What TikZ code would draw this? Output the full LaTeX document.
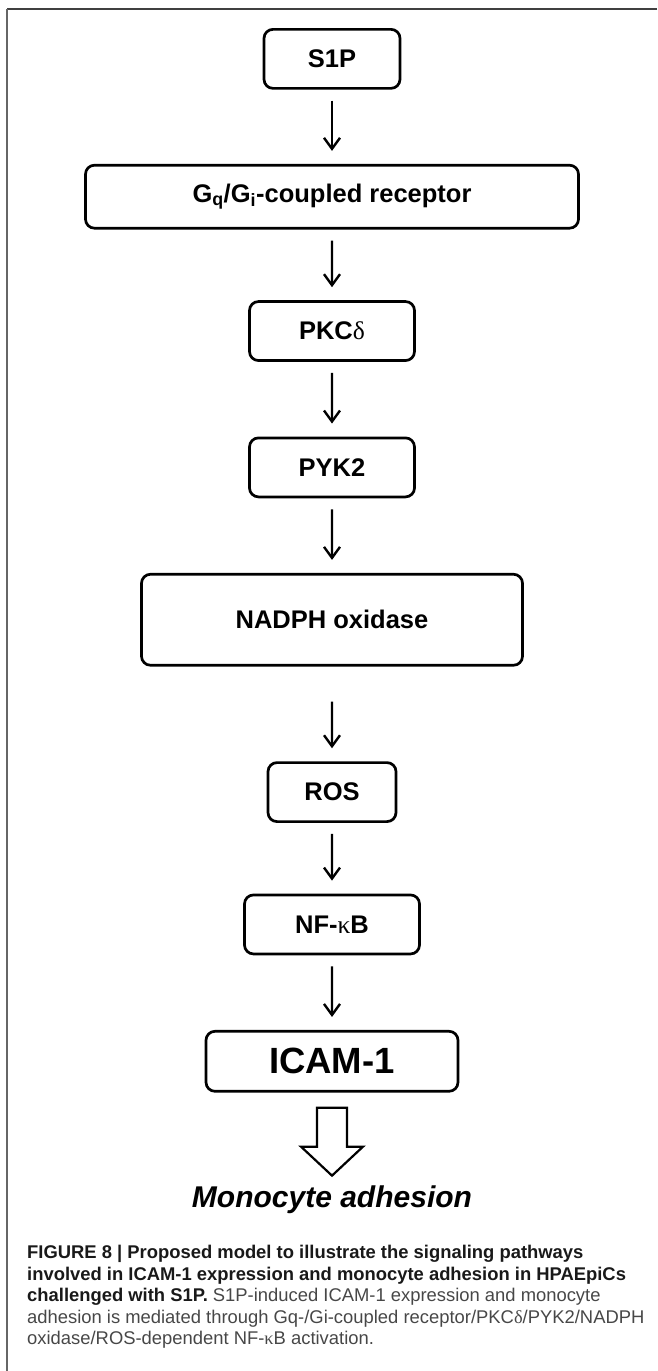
\documentclass[tikz,border=0pt]{standalone}
\usepackage{fontspec}
\setmainfont{Liberation Sans}
\newfontfamily\greekfont{Liberation Serif}
\usetikzlibrary{arrows.meta}
\tikzset{
	treenode/.style = {
		align=center,
		inner sep=0pt,
		text centered,
		font=\bfseries\fontsize{25.5pt}{30pt}\selectfont,
		anchor=north,
		rectangle,
		rounded corners=9pt,
		draw=black,
		line width=2.7pt
	},
	node_s/.style = {
		treenode,
		minimum width=136pt,
		minimum height=59pt
	},
	node_m/.style = {
		treenode,
		minimum width=165pt,
		minimum height=59pt
	},
	node_gq/.style = {
		treenode,
		minimum width=493pt,
		minimum height=63pt
	},
	node_nox/.style = {
		treenode,
		minimum width=381pt,
		minimum height=91pt
	},
	node_ros/.style = {
		treenode,
		minimum width=128pt,
		minimum height=59pt
	},
	node_nfkb/.style = {
		treenode,
		minimum width=175pt,
		minimum height=59pt
	},
	node_icam/.style = {
		treenode,
		font=\bfseries\fontsize{36.5pt}{40pt}\selectfont,
		minimum width=252pt,
		minimum height=60pt
	},
	node_result/.style = {
		inner sep=0pt,
		font=\bfseries\itshape\fontsize{30pt}{36pt}\selectfont
	},
	node_caption/.style = {
		align=left,
		inner sep=0pt,
		anchor=north west,
		text=black!72,
		font=\fontsize{18.4pt}{21.5pt}\selectfont
	},
	hollow/.style = {
		-,
		line width=2.2pt,
		line join=miter,
		draw=black,
		fill=white
	}
}

\begin{document}
\begin{tikzpicture}[x=1pt, y=1pt, ->, >={Straight Barb[length=11pt,width=16pt]},
	level distance=105pt, parent anchor=south, child anchor=north,
	level 2/.style={level distance=103.5pt},
	level 3/.style={level distance=105.5pt},
	level 5/.style={level distance=141.5pt},
	level 6/.style={level distance=101.5pt},
	level 7/.style={level distance=105.5pt},
	edge from parent/.style={draw, line width=2.4pt, shorten <=11pt, shorten >=13pt}]
\useasboundingbox (0,0) rectangle (657,-1371);
\draw[-, line width=2pt, black!75] (657,-8.5) -- (7,-8.5);
\draw[-, line width=1.2pt, black!60] (7,-8.5) -- (7,-1371);
\node [node_s] (s1p) at (332,-28) {S1P}
child {
	node [node_gq] (gq) {G\textsubscript{q}/G\textsubscript{i}-coupled receptor}
	child {
		node [node_m] (pkc) {PKC{\mdseries\greekfont δ}}
		child {
			node [node_m] (pyk2) {PYK2}
			child {
				node [node_nox] (nox) {NADPH oxidase}
				child {
					node [node_ros] (ros) {ROS}
					child {
						node [node_nfkb] (nfkb) {NF-{\mdseries\greekfont κ}B}
						child {
							node [node_icam] (icam) {ICAM-1}
						}
					}
					edge from parent [shorten <=35pt]
				}
			}
		}
	}
};
\draw[hollow] ([shift={(-15,-15)}]icam.south) -- ++(0,-39) -- ++(-16,0)
	-- ([yshift=-83pt]icam.south) -- ++(31,29) -- ++(-16,0)
	-- ([shift={(15,-15)}]icam.south) -- cycle;
\node [node_result] (adhesion) at ([yshift=-107pt]icam.south) {Monocyte adhesion};
\node [node_caption] (caption) at (27,-1245) {%
	{\bfseries\color{black!90}FIGURE 8 | Proposed model to illustrate the signaling pathways}\\
	{\bfseries\color{black!90}involved in ICAM-1 expression and monocyte adhesion in HPAEpiCs}\\
	{\bfseries\color{black!90}challenged with S1P.} S1P-induced ICAM-1 expression and monocyte\\
	adhesion is mediated through Gq-/Gi-coupled receptor/PKC{\greekfont δ}/PYK2/NADPH\\
	oxidase/ROS-dependent NF-{\greekfont κ}B activation.};
\end{tikzpicture}
\end{document}
